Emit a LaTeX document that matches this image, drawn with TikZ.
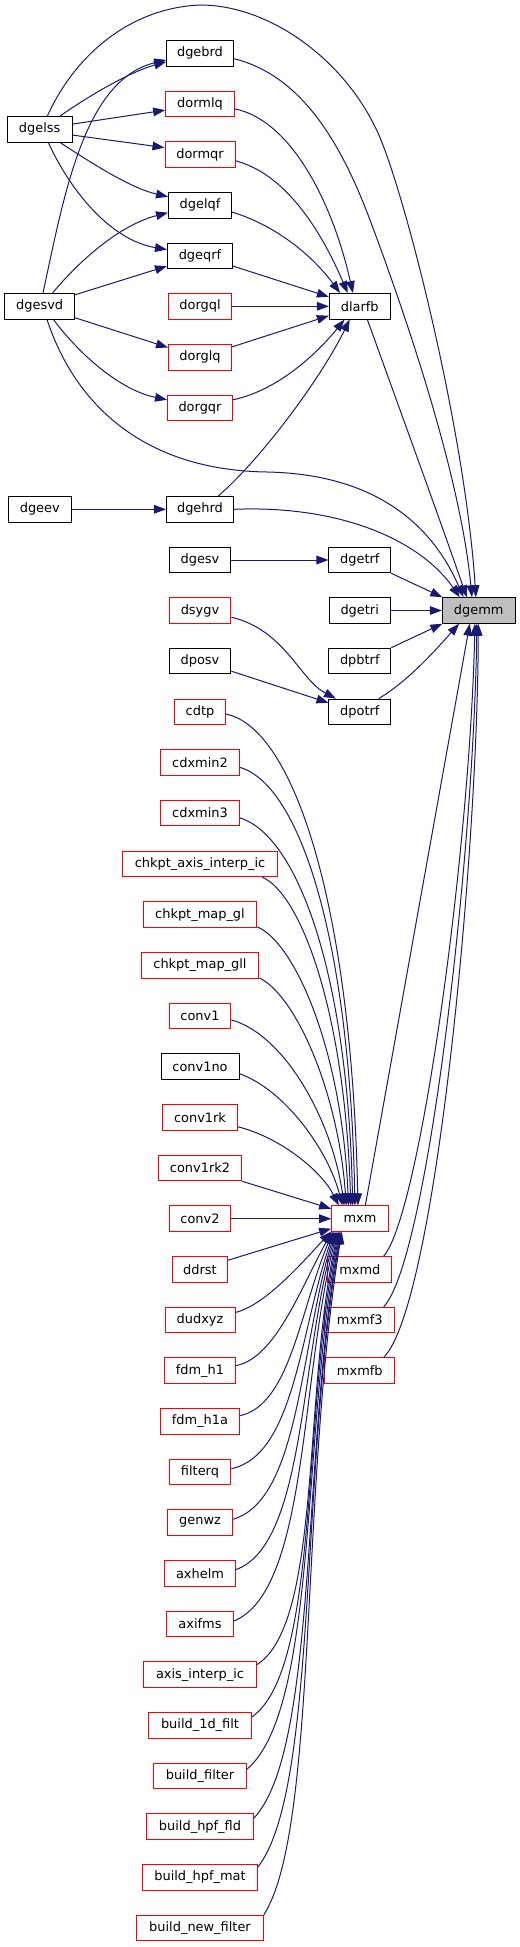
\documentclass[tikz,border=0pt]{standalone}
\usepackage{fontspec}
\setmainfont{DejaVu Sans}
\usetikzlibrary{arrows.meta}
\definecolor{edgec}{RGB}{25,25,112}
\definecolor{redb}{RGB}{255,0,0}
\definecolor{grayf}{RGB}{191,191,191}
\begin{document}
\begin{tikzpicture}[x=0.75pt,y=-0.75pt,
  box/.style={draw, line width=0.75pt, minimum height=19.1pt, inner sep=0pt, fill=white, text=black, font=\fontsize{9.7}{11}\selectfont},
  bk/.style={box, draw=black, minimum width=#1*0.75pt},
  rd/.style={box, draw=redb, minimum width=#1*0.75pt},
  gy/.style={box, draw=black, fill=grayf, minimum width=#1*0.75pt},
  e/.style={draw=edgec, line width=0.75pt, -{Triangle[length=9pt,width=6.5pt]}}
]
\useasboundingbox (0,0) rectangle (520,1947);
% left column
\node[bk=64.7] (dgelss) at (39.7,129.3) {dgelss};
\node[bk=70] (dgesvd) at (39.7,306.3) {dgesvd};
\node[bk=63] (dgeev) at (39.8,509.3) {dgeev};
% middle column
\node[bk=66.7] (dgebrd) at (200,53.3) {dgebrd};
\node[rd=68.7] (dormlq) at (200,104) {dormlq};
\node[rd=70] (dormqr) at (200,154.5) {dormqr};
\node[bk=63] (dgelqf) at (200,205.3) {dgelqf};
\node[bk=65] (dgeqrf) at (200,256) {dgeqrf};
\node[rd=63] (dorgql) at (200,306.3) {dorgql};
\node[rd=63] (dorglq) at (200,357.3) {dorglq};
\node[rd=65] (dorgqr) at (200,408) {dorgqr};
\node[bk=67] (dgehrd) at (200,509.3) {dgehrd};
\node[bk=61.7] (dgesv) at (200,560) {dgesv};
\node[rd=61.7] (dsygv) at (200,610.5) {dsygv};
\node[bk=61.7] (dposv) at (200,661) {dposv};
\node[rd=51] (cdtp) at (200,711.8) {cdtp};
\node[rd=79] (cdxmin2) at (200,762.5) {cdxmin2};
\node[rd=79] (cdxmin3) at (200,813) {cdxmin3};
\node[rd=155] (chkaxis) at (200,864) {chkpt\_axis\_interp\_ic};
\node[rd=113.7] (chkgl) at (200,914.7) {chkpt\_map\_gl};
\node[rd=117.7] (chkgll) at (200,965.3) {chkpt\_map\_gll};
\node[rd=61.7] (conv1) at (200,1016) {conv1};
\node[bk=78] (conv1no) at (200,1066.7) {conv1no};
\node[rd=75] (conv1rk) at (200,1117.3) {conv1rk};
\node[rd=83] (conv1rk2) at (200,1168) {conv1rk2};
\node[rd=61.7] (conv2) at (200,1218.7) {conv2};
\node[rd=55] (ddrst) at (200,1269.3) {ddrst};
\node[rd=70] (dudxyz) at (200,1320) {dudxyz};
\node[rd=71] (fdmh1) at (200,1370.7) {fdm\_h1};
\node[rd=79] (fdmh1a) at (200,1421.3) {fdm\_h1a};
\node[rd=61.7] (filterq) at (200,1472) {filterq};
\node[rd=65] (genwz) at (200,1522.7) {genwz};
\node[rd=71] (axhelm) at (200,1573.3) {axhelm};
\node[rd=67] (axifms) at (200,1624) {axifms};
\node[rd=112.3] (axisic) at (200,1674.7) {axis\_interp\_ic};
\node[rd=102.3] (b1d) at (200,1725.3) {build\_1d\_filt};
\node[rd=92.3] (bfilter) at (200,1776) {build\_filter};
\node[rd=106.7] (bhpffld) at (200,1826.7) {build\_hpf\_fld};
\node[rd=114.7] (bhpfmat) at (200,1877.3) {build\_hpf\_mat};
\node[rd=126.7] (bnew) at (200,1928) {build\_new\_filter};
% right-middle column
\node[bk=60.7] (dlarfb) at (359.7,306.3) {dlarfb};
\node[bk=61.7] (dgetrf) at (359.8,560) {dgetrf};
\node[bk=60.7] (dgetri) at (359.7,610.5) {dgetri};
\node[bk=61.7] (dpbtrf) at (359.8,661) {dpbtrf};
\node[bk=61.7] (dpotrf) at (359.8,711.8) {dpotrf};
\node[rd=56.7] (mxm) at (360,1218.7) {mxm};
\node[rd=64.3] (mxmd) at (359.8,1269.3) {mxmd};
\node[rd=69.7] (mxmf3) at (359.8,1320) {mxmf3};
\node[rd=69.7] (mxmfb) at (359.8,1370.7) {mxmfb};
% target
\node[gy=72.7] (dgemm) at (478.7,610.5) {dgemm};

% --- edges: top part
\draw[e] (dgelss.60) .. controls (75,55) and (130,8) .. (200,5) .. controls (270,5) and (345,60) .. (378,133) .. controls (405,193) and (465,430) .. (dgemm.102);
\draw[e] (dgelss.33) .. controls (90,95) and (130,72) .. (dgebrd.194.7);
\draw[e] (dgesvd.76) .. controls (65,190) and (85,80) .. (dgebrd.191);
\draw[e] (dgelss.9) -- (dormlq.190);
\draw[e] (dgelss.-10) -- (dormqr.169.5);
\draw[e] (dgelss.-33) .. controls (90,162) and (130,188) .. (dgelqf.165);
\draw[e] (dgelss.-57) .. controls (70,190) and (110,240) .. (dgeqrf.169.6);
\draw[e] (dgesvd.46.6) .. controls (80,260) and (120,225) .. (dgelqf.193.6);
\draw[e] (dgesvd.18) -- (dgeqrf.197);
\draw[e] (dgesvd.-18.5) -- (dorglq.163.6);
\draw[e] (dgesvd.-44) .. controls (80,355) and (120,390) .. (dorgqr.166);
\draw[e] (dgesvd.-61) .. controls (70,390) and (130,470) .. (267,472) .. controls (370,474) and (430,520) .. (dgemm.139);
\draw[e] (dgebrd.-9.7) .. controls (300,75) and (340,140) .. (370,220) .. controls (400,300) and (460,470) .. (dgemm.117);
\draw[e] (dormlq.-8) .. controls (290,120) and (332,200) .. (dlarfb.117);
\draw[e] (dormqr.-10.5) .. controls (290,175) and (325,240) .. (dlarfb.132);
\draw[e] (dgelqf.-12) .. controls (275,225) and (312,255) .. (dlarfb.146.6);
\draw[e] (dgeqrf.-17) -- (dlarfb.163);
\draw[e] (dorgql) -- (dlarfb);
\draw[e] (dorglq.18) -- (dlarfb.197.7);
\draw[e] (dorgqr.14) .. controls (280,390) and (320,350) .. (dlarfb.221.5);
\draw[e] (dgehrd.36.8) .. controls (260,460) and (320,380) .. (dlarfb.233);
\draw[e] (dlarfb.-60.7) .. controls (400,410) and (440,520) .. (dgemm.132);
\draw[e] (dgeev) -- (dgehrd);
\draw[e] (dgehrd.east) .. controls (340,505) and (420,540) .. (dgemm.145.6);
\draw[e] (dgesv) -- (dgetrf);
\draw[e] (dgetrf.south east) -- (dgemm.160);
\draw[e] (dgetri) -- (dgemm);
\draw[e] (dpbtrf.north east) -- (dgemm.200);
\draw[e] (dpotrf.35) .. controls (410,680) and (440,645) .. (dgemm.214.4);
\draw[e] (dsygv.-12) .. controls (285,630) and (300,680) .. (dpotrf.151);
\draw[e] (dposv.-18) -- (dpotrf.164);
% mxm family to dgemm
\draw[e] (mxm.68) -- (dgemm.-124);
\draw[e] (mxmd.29) .. controls (420,1215) and (470,850) .. (dgemm.-106);
\draw[e] (mxmf3.29) .. controls (428,1260) and (474,850) .. (dgemm.-98);
\draw[e] (mxmfb.29) .. controls (436,1305) and (478,850) .. (dgemm.-92);
% callers of mxm from above
\draw[e] (cdtp.-5) .. controls (295,728) and (352,910) .. (mxm.99);
\draw[e] (cdxmin2.-7) .. controls (300,785) and (350,940) .. (mxm.111);
\draw[e] (cdxmin3.-7) .. controls (298,836) and (348,975) .. (mxm.119);
\draw[e] (chkaxis.-12) .. controls (300,893) and (345,1010) .. (mxm.125);
\draw[e] (chkgl.-12) .. controls (295,943) and (342,1050) .. (mxm.131);
\draw[e] (chkgll.-12) .. controls (295,995) and (338,1090) .. (mxm.136);
\draw[e] (conv1.-7) .. controls (285,1035) and (332,1120) .. (mxm.140);
\draw[e] (conv1no.-10.6) .. controls (285,1090) and (328,1150) .. (mxm.143);
\draw[e] (conv1rk.-14) .. controls (282,1138) and (322,1172) .. (mxm.148);
\draw[e] (conv1rk2.south east) -- (mxm.161);
\draw[e] (conv2) -- (mxm);
\draw[e] (ddrst.18.7) -- (mxm.199.5);
% callers of mxm from below
\draw[e] (dudxyz.12.4) .. controls (265,1305) and (300,1265) .. (mxm.204);
\draw[e] (fdmh1.8.7) .. controls (275,1358) and (300,1290) .. (mxm.205);
\draw[e] (fdmh1a.8.6) .. controls (290,1405) and (300,1310) .. (mxm.206);
\draw[e] (filterq.6) .. controls (295,1455) and (300,1330) .. (mxm.207);
\draw[e] (genwz.6) .. controls (300,1500) and (300,1345) .. (mxm.208);
\draw[e] (axhelm.6.4) .. controls (305,1545) and (300,1360) .. (mxm.209);
\draw[e] (axifms.5.6) .. controls (308,1590) and (300,1380) .. (mxm.210);
\draw[e] (axisic.10.8) .. controls (322,1625) and (303,1390) .. (mxm.211);
\draw[e] (b1d.9.5) .. controls (320,1670) and (302,1410) .. (mxm.212);
\draw[e] (bfilter.8.3) .. controls (318,1710) and (302,1430) .. (mxm.213);
\draw[e] (bhpffld.9.6) .. controls (318,1750) and (302,1450) .. (mxm.214);
\draw[e] (bhpfmat.10.5) .. controls (318,1790) and (300,1470) .. (mxm.215);
\draw[e] (bnew.north east) .. controls (318,1830) and (300,1490) .. (mxm.216);
\end{tikzpicture}
\end{document}
